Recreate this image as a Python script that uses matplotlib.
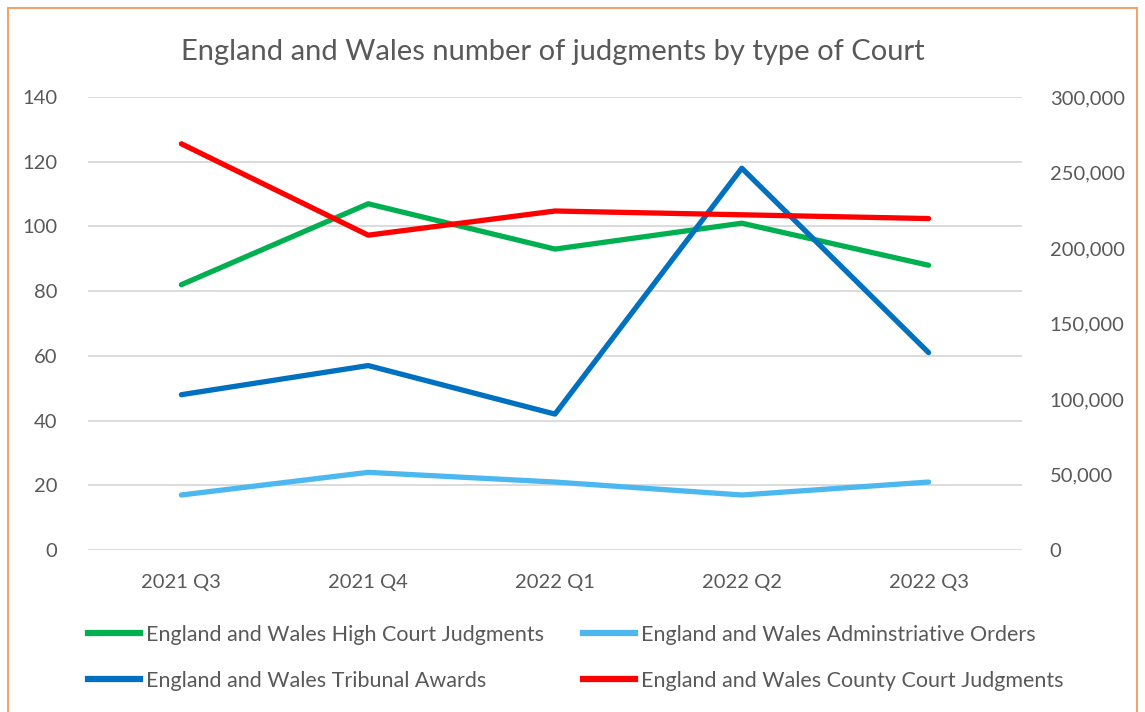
import matplotlib.pyplot as plt
from matplotlib.ticker import FuncFormatter
from matplotlib.patches import Rectangle
from matplotlib.lines import Line2D

plt.rcParams['font.family'] = ['Lato', 'DejaVu Sans']

# Data
quarters = ['2021 Q3', '2021 Q4', '2022 Q1', '2022 Q2', '2022 Q3']
high_court = [82, 107, 93, 101, 88]
admin_orders = [17, 24, 21, 17, 21]
tribunal = [48, 57, 42, 118, 61]
county_court = [269000, 208500, 224500, 222000, 219500]  # right axis

names = ['England and Wales High Court Judgments',
         'England and Wales Adminstriative Orders',
         'England and Wales Tribunal Awards',
         'England and Wales County Court Judgments']
colors = ['#00B050', '#4DB8F0', '#0070C0', '#FF0000']
grey = '#595959'

fig = plt.figure(figsize=(11.45, 7.12), dpi=100)
ax = fig.add_axes([88 / 1145, 1 - 550 / 712, 934 / 1145, 453 / 712])
ax2 = ax.twinx()

x = range(len(quarters))
lw = 3.8
ax.plot(x, high_court, color=colors[0], lw=lw, solid_capstyle='round', solid_joinstyle='round', zorder=3)
ax.plot(x, admin_orders, color=colors[1], lw=lw, solid_capstyle='round', solid_joinstyle='round', zorder=3)
ax.plot(x, tribunal, color=colors[2], lw=lw, solid_capstyle='round', solid_joinstyle='round', zorder=3)
ax2.plot(x, county_court, color=colors[3], lw=lw, solid_capstyle='round', solid_joinstyle='round', zorder=3)

ax.set_xlim(-0.5, 4.5)
ax.set_ylim(0, 140)
ax.set_yticks(range(0, 141, 20))
ax2.set_ylim(0, 300000)
ax2.set_yticks(range(0, 300001, 50000))
ax2.yaxis.set_major_formatter(FuncFormatter(lambda v, p: f'{int(v):,}'))

ax.set_xticks(list(x))
ax.set_xticklabels(quarters)
ax.grid(axis='y', color='#D9D9D9', lw=1.3)
ax.set_axisbelow(True)

for a in (ax, ax2):
    for s in a.spines.values():
        s.set_visible(False)
    a.tick_params(length=0, labelsize=14.5, labelcolor=grey)
ax.tick_params(axis='y', pad=22)
ax2.tick_params(axis='y', pad=20)
ax.tick_params(axis='x', pad=17)

fig.text(553 / 1145, 1 - 52 / 712, 'England and Wales number of judgments by type of Court',
         ha='center', va='center', fontsize=21, color=grey)

# legend: two columns placed separately
col1 = [0, 2]
col2 = [1, 3]
for idx, xpos in ((col1, 88), (col2, 583)):
    hs = [Line2D([], [], color=colors[i], lw=4.5) for i in idx]
    leg = fig.legend(hs, [names[i] for i in idx], loc='upper left',
                     bbox_to_anchor=(xpos / 1145, 1 - 625 / 712), frameon=False,
                     fontsize=15.5, labelcolor=grey, handlelength=2.4, handletextpad=0.3,
                     labelspacing=1.2, borderpad=0, borderaxespad=0)

# orange outer border
fig.patches.append(Rectangle((8 / 1145, -0.01), 1129 / 1145, 1 - 8 / 712 + 0.01,
                             transform=fig.transFigure, fill=False, ec='#F4A46A', lw=1.5))

fig.savefig('out.png', dpi=100)
